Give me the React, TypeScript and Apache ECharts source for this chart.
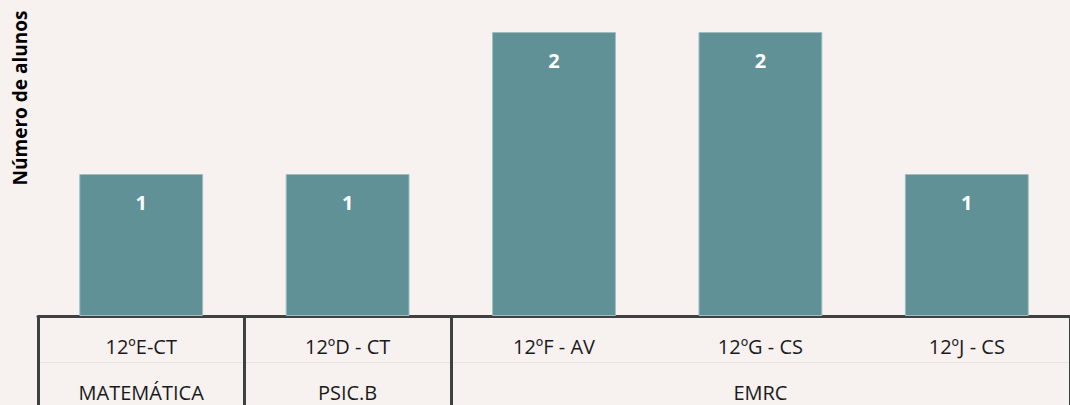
import React, { useEffect, useRef } from "react";
import * as echarts from "echarts";

const classes = ["12ºE-CT", "12ºD - CT", "12ºF - AV", "12ºG - CS", "12ºJ - CS"];
const students = [1, 1, 2, 2, 1];
const groupLabels = ["MATEMÁTICA", "PSIC.B", "", "EMRC", ""];
const groupStarts = [0, 1, 2];
const yTitle = "Número de alunos";

const FONT = "'Open Sans', 'Noto Sans', sans-serif";

export default function App() {
  const ref = useRef<HTMLDivElement>(null);
  useEffect(() => {
    if (!ref.current) return;
    const chart = echarts.init(ref.current, null, { renderer: "svg" });
    chart.setOption({
      animation: false,
      backgroundColor: "#f7f1f0",
      textStyle: { fontFamily: FONT },
      grid: { left: 38, top: 32, right: -5.5, height: 284, containLabel: false },
      xAxis: [
        {
          type: "category",
          data: classes,
          position: "bottom",
          axisLine: { show: true, lineStyle: { color: "#404040", width: 3 } },
          axisTick: {
            show: true,
            length: 92,
            interval: (index: number) => groupStarts.indexOf(index) >= 0,
            lineStyle: { color: "#404040", width: 3 },
          },
          axisLabel: { color: "#1a1a1a", fontSize: 20, fontFamily: FONT, margin: 20, interval: 0 },
          splitLine: { show: false },
        },
        {
          type: "category",
          data: groupLabels,
          position: "bottom",
          offset: 46,
          axisLine: { show: true, lineStyle: { color: "#e8e2e1", width: 1 } },
          axisTick: { show: false },
          axisLabel: { color: "#1a1a1a", fontSize: 20, fontFamily: FONT, margin: 20, interval: 0 },
        },
      ],
      yAxis: {
        type: "value",
        min: 0,
        max: 2,
        show: false,
        splitLine: { show: false },
      },
      graphic: [
        {
          type: "text",
          x: 20,
          y: 98,
          rotation: Math.PI / 2,
          style: {
            text: yTitle,
            font: `bold 19px ${FONT}`,
            fill: "#000",
            textAlign: "center",
            textVerticalAlign: "middle",
          },
        },
      ],
      series: [
        {
          type: "bar",
          data: students,
          barCategoryGap: "40%",
          itemStyle: { color: "#5f9196", borderColor: "#9dbfc0", borderWidth: 1 },
          label: {
            show: true,
            position: "insideTop",
            distance: 18,
            color: "#ffffff",
            fontWeight: "bold",
            fontSize: 20,
            fontFamily: FONT,
          },
        },
      ],
    });
    return () => chart.dispose();
  }, []);
  return (
    <div
      ref={ref}
      style={{ position: "fixed", left: 0, top: 0, width: 1070, height: 405 }}
    />
  );
}
